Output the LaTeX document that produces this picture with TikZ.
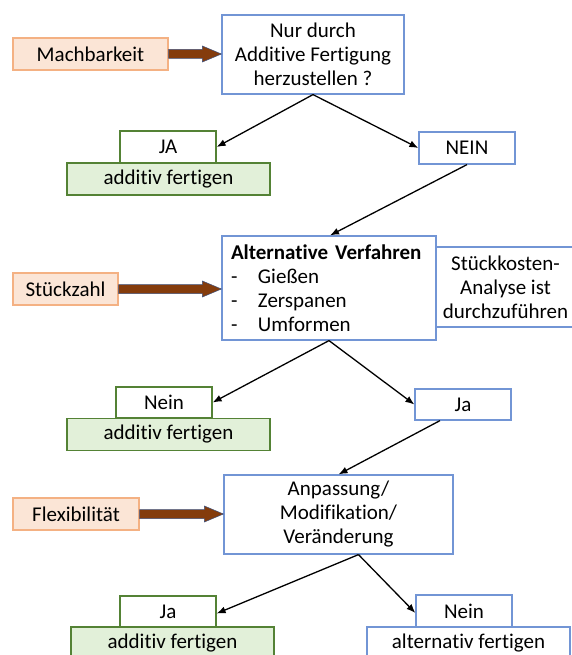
\documentclass[tikz,border=0pt]{standalone}
\usepackage{fontspec}
\setmainfont{Carlito}[Ligatures={NoCommon,NoContextual}]
\usetikzlibrary{arrows.meta,calc}
\definecolor{bbord}{HTML}{7295D5}
\definecolor{gbord}{HTML}{548235}
\definecolor{gfill}{HTML}{E2F0D9}
\definecolor{obord}{HTML}{F4B183}
\definecolor{ofill}{HTML}{FBE5D6}
\definecolor{brown}{HTML}{843C0C}
\definecolor{fatline}{HTML}{3E4F7A}
\tikzset{
  base/.style={inner sep=0pt, align=center, font=\fontsize{21}{24}\selectfont, line width=1.2pt},
  bluebox/.style={base, draw=bbord, fill=white},
  greenbox/.style={base, draw=gbord, fill=white},
  greenfill/.style={base, draw=gbord, fill=gfill},
  orangebox/.style={base, draw=obord, fill=ofill},
  conn/.style={line width=1.3pt, -{Latex[length=9pt,width=7pt]}},
  fat/.style={fill=brown, draw=fatline, line width=0.5pt}
}
\newcommand{\fatarrow}[2]{%
  \path let \p1=(#1.east), \p2=(#2.west) in
    [fat] (\x1,\y1-4.5pt) -- (\x2-19pt,\y1-4.5pt) -- (\x2-19pt,\y1-8pt) -- (\x2,\y1)
      -- (\x2-19pt,\y1+8pt) -- (\x2-19pt,\y1+4.5pt) -- (\x1,\y1+4.5pt) -- cycle;}
\begin{document}
\begin{tikzpicture}[x=1pt,y=-1pt]
\useasboundingbox (0,0) rectangle (572,655);
% row 1
\node[orangebox, minimum width=155pt, minimum height=32pt] (mach) at (90.5,54) {Machbarkeit};
\node[bluebox, minimum width=182pt, minimum height=79pt] (top) at (313,54.5) {Nur durch\\Additive Fertigung\\herzustellen ?};
\node[greenfill, minimum width=203pt, minimum height=32pt] (af1) at (168.5,179) {additiv fertigen};
\node[greenbox, minimum width=96pt, minimum height=32pt] (ja1) at (168,147) {JA};
\node[bluebox, minimum width=96pt, minimum height=32pt] (nein1) at (467,148) {NEIN};
% row 2
\node[bluebox, minimum width=139pt, minimum height=80pt] (stk) at (505.5,287) {Stückkosten-\\Analyse ist\\durchzuführen};
\node[bluebox, minimum width=214pt, minimum height=104pt, inner xsep=9pt, text width=196pt, align=left] (alt) at (329,288)
  {\textbf{Alternative Verfahren}\\\makebox[27pt][l]{-}Gießen\\\makebox[27pt][l]{-}Zerspanen\\\makebox[27pt][l]{-}Umformen};
\node[orangebox, minimum width=105pt, minimum height=32pt] (stz) at (65.5,289) {Stückzahl};
\node[greenfill, minimum width=203pt, minimum height=32pt] (af2) at (168.5,434.5) {additiv fertigen};
\node[greenbox, minimum width=96pt, minimum height=31pt] (nein2) at (164,402.5) {Nein};
\node[bluebox, minimum width=96pt, minimum height=31pt] (ja2) at (463,404.5) {Ja};
% row 3
\node[bluebox, minimum width=229pt, minimum height=79pt] (anp) at (338.5,514.5) {Anpassung/\\Modifikation/\\Veränderung};
\node[orangebox, minimum width=126pt, minimum height=32pt] (flex) at (76,514) {Flexibilität};
\node[greenfill, minimum width=203pt, minimum height=33pt] (af3) at (172.5,643.5) {additiv fertigen};
\node[greenbox, minimum width=96pt, minimum height=31pt] (ja3) at (168,611.5) {Ja};
\node[bluebox, minimum width=203pt, minimum height=33pt] (alt3) at (468.5,643.5) {alternativ fertigen};
\node[bluebox, minimum width=96pt, minimum height=32pt] (nein3) at (464,611) {Nein};
% fat arrows
\fatarrow{mach}{top}
\fatarrow{stz}{alt}
\fatarrow{flex}{anp}
% connectors
\draw[conn] (top.south) -- (ja1.east);
\draw[conn] (top.south) -- (nein1.west);
\draw[conn] (nein1.south) -- ([xshift=1pt]alt.north);
\draw[conn] (alt.south) -- (nein2.east);
\draw[conn] (alt.south) -- (ja2.west);
\draw[conn] ([xshift=-23pt]ja2.south) -- (anp.north);
\draw[conn] ([xshift=20pt]anp.south) -- ([yshift=-2pt]ja3.east);
\draw[conn] ([xshift=20pt]anp.south) -- ([yshift=-2pt]nein3.west);
\end{tikzpicture}
\end{document}
